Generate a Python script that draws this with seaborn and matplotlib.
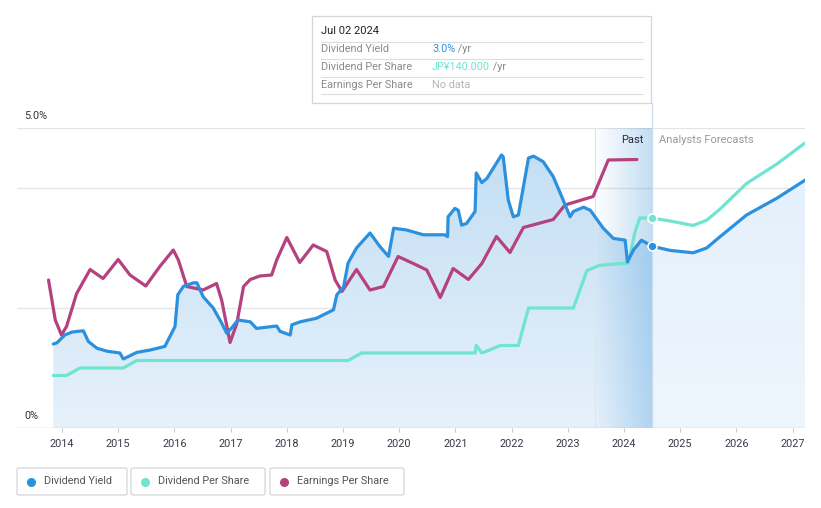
import numpy as np
import pandas as pd
import matplotlib
matplotlib.use("Agg")
import matplotlib.pyplot as plt
import seaborn as sns
from matplotlib.colors import LinearSegmentedColormap, to_rgba
from matplotlib.patches import Rectangle, FancyBboxPatch
from matplotlib.lines import Line2D

# ---------------- data ----------------
# Dividend yield (%), past
dy_years = [2013.845, 2013.91, 2014.05, 2014.18, 2014.38, 2014.47, 2014.62, 2014.80, 2015.03, 2015.09,
            2015.33, 2015.57, 2015.83, 2015.89, 2016.01, 2016.06, 2016.16, 2016.34, 2016.40, 2016.51,
            2016.69, 2016.84, 2016.93, 2017.02, 2017.13, 2017.35, 2017.46, 2017.82, 2017.88, 2018.06,
            2018.09, 2018.24, 2018.53, 2018.83, 2018.89, 2019.01, 2019.09, 2019.24, 2019.48, 2019.66,
            2019.81, 2019.90, 2020.13, 2020.43, 2020.81, 2020.86, 2020.87, 2020.99, 2021.05, 2021.11,
            2021.20, 2021.35, 2021.37, 2021.47, 2021.56, 2021.82, 2021.85, 2021.94, 2022.03, 2022.12,
            2022.30, 2022.39, 2022.56, 2022.74, 2022.89, 2023.04, 2023.10, 2023.28, 2023.40, 2023.63,
            2023.81, 2024.02, 2024.06, 2024.17, 2024.31, 2024.50]
dy_vals = [1.40, 1.42, 1.55, 1.60, 1.62, 1.44, 1.33, 1.28, 1.25, 1.15,
           1.26, 1.30, 1.36, 1.47, 1.69, 2.22, 2.36, 2.42, 2.42, 2.19,
           2.00, 1.75, 1.58, 1.67, 1.80, 1.77, 1.66, 1.70, 1.61, 1.55,
           1.72, 1.77, 1.83, 1.97, 2.22, 2.35, 2.75, 3.00, 3.25, 3.02,
           2.86, 3.33, 3.30, 3.22, 3.22, 3.19, 3.52, 3.66, 3.63, 3.38,
           3.41, 3.61, 4.25, 4.09, 4.16, 4.55, 4.52, 3.80, 3.52, 3.55,
           4.50, 4.53, 4.44, 4.19, 3.86, 3.52, 3.61, 3.68, 3.63, 3.33,
           3.16, 3.13, 2.77, 2.97, 3.13, 3.03]
# Dividend yield (%), analyst forecast
dy_fc_years = [2024.50, 2024.82, 2025.23, 2025.47, 2025.71, 2026.18, 2026.72, 2027.22]
dy_fc_vals = [3.03, 2.96, 2.92, 3.00, 3.19, 3.55, 3.83, 4.13]

# Dividend per share (JPY)
dps_years = [2013.845, 2014.08, 2014.32, 2015.09, 2015.33, 2019.09, 2019.33, 2021.35, 2021.37, 2021.47,
             2021.80, 2022.12, 2022.30, 2023.10, 2023.34, 2023.57, 2024.08, 2024.19, 2024.28, 2024.50]
dps_vals = [35, 35, 40, 40, 45, 45, 50, 50, 55, 50,
            55, 55, 80, 80, 105, 108.5, 110, 130, 140, 140]
dps_fc_years = [2024.50, 2024.82, 2025.23, 2025.47, 2025.71, 2026.18, 2026.72, 2027.22]
dps_fc_vals = [140, 138, 135, 138.5, 146, 163, 176, 190]

# Earnings per share (JPY)
eps_years = [2013.76, 2013.88, 2013.99, 2014.08, 2014.26, 2014.50, 2014.73, 2015.00, 2015.21, 2015.49,
             2015.74, 2015.98, 2016.07, 2016.22, 2016.51, 2016.75, 2016.84, 2016.99, 2017.11, 2017.23,
             2017.35, 2017.52, 2017.73, 2017.82, 2018.00, 2018.23, 2018.47, 2018.71, 2018.86, 2018.98,
             2019.24, 2019.48, 2019.72, 2019.98, 2020.25, 2020.49, 2020.73, 2020.96, 2021.23, 2021.47,
             2021.73, 2021.97, 2022.21, 2022.74, 2022.95, 2023.45, 2023.72, 2024.23]
eps_vals = [296, 216, 186, 203, 269, 317, 299, 337, 306, 284,
            323, 356, 336, 283, 276, 289, 256, 171, 209, 283,
            297, 304, 306, 336, 381, 331, 366, 353, 296, 273,
            317, 276, 283, 343, 329, 316, 261, 319, 297, 329,
            383, 351, 401, 417, 446, 463, 536, 537]

tick_years = list(range(2014, 2028))
legend_labels = ["Dividend Yield", "Dividend Per Share", "Earnings Per Share"]

C_DY = "#2b91de"
C_DPS = "#6fe4d0"
C_EPS = "#b5417f"

# ---------------- figure ----------------
sns.set_theme(style="white")
plt.rcParams['font.family'] = ['Roboto', 'DejaVu Sans']

W, H = 821, 508
fig = plt.figure(figsize=(W / 100, H / 100), dpi=100)
fig.patch.set_facecolor("white")

def fx(x):
    return x / W

def fy(y):
    return 1 - y / H

XMIN, XMAX = 2013.199, 2027.22
ax = fig.add_axes([fx(17), fy(428), 788 / W, 300 / H])
ax.set_facecolor("none")
for s in ax.spines.values():
    s.set_visible(False)
ax.set_yticks([])

# grid lines
for g in [2, 4, 5]:
    ax.axhline(g, color="#e4e4e4", lw=0.9, zorder=0)


def gradient_fill(ax, x, y, top, bottom, z=1):
    poly = ax.fill_between(x, y, 0, facecolor="none", edgecolor="none", zorder=z)
    grad = np.linspace(1, 0, 256).reshape(-1, 1)
    cmap = LinearSegmentedColormap.from_list("g", [bottom, top])
    im = ax.imshow(grad, aspect="auto", cmap=cmap, extent=[min(x), max(x), 0, max(y)],
                   origin="upper", zorder=z, interpolation="bicubic")
    im.set_clip_path(poly.get_paths()[0], transform=ax.transData)
    return im

gradient_fill(ax, dy_years, dy_vals, "#c4dff4", "#e6f1fb", z=1)
gradient_fill(ax, dy_fc_years, dy_fc_vals, "#e4f0fb", "#eef6fd", z=1)

# past highlight band
band = np.zeros((2, 256, 4))
base = np.array(to_rgba("#3f97dc"))
for i, a in enumerate(np.linspace(0.0, 0.32, 256)):
    band[:, i, :3] = base[:3]
    band[:, i, 3] = a
x_band0 = 2014 + (595 - 62) / 56.2
x_band1 = 2014 + (651.5 - 62) / 56.2
ax.imshow(band, aspect="auto", extent=[x_band0, x_band1, 0, 5], zorder=2, interpolation="bilinear")
ax.axvline(x_band0, color="#d6e7f5", lw=0.8, zorder=2)
ax.axvline(x_band1, color="#c9dced", lw=0.9, zorder=2)
ax.axhline(0, color="#c9c9c9", lw=1.0, zorder=6)
ax.set_xlim(XMIN, XMAX)
ax.set_ylim(0, 5)

# x ticks
ax.set_xticks(tick_years)
ax.set_xticklabels([str(t) for t in tick_years], fontsize=7.8, color="#3a3a4a")
ax.tick_params(axis="x", length=3, width=0.8, color="#c9c9c9", pad=5, bottom=True)

# overlay axes: EPS, DPS, yield line
ax3 = ax.twinx()
ax3.set_ylim(0, 600)
ax2 = ax.twinx()
ax2.set_ylim(0, 200)
ax4 = ax.twinx()
ax4.set_ylim(0, 5)
for a in (ax2, ax3, ax4):
    a.set_yticks([])
    a.patch.set_visible(False)
    for s in a.spines.values():
        s.set_visible(False)
    a.set_xlim(XMIN, XMAX)

lw = 2.3
sns.lineplot(x=eps_years, y=eps_vals, ax=ax3, color=C_EPS, lw=lw)
sns.lineplot(x=dps_years, y=dps_vals, ax=ax2, color=C_DPS, lw=lw)
sns.lineplot(x=dps_fc_years, y=dps_fc_vals, ax=ax2, color=C_DPS, lw=lw)
sns.lineplot(x=dy_years, y=dy_vals, ax=ax4, color=C_DY, lw=lw)
sns.lineplot(x=dy_fc_years, y=dy_fc_vals, ax=ax4, color=C_DY, lw=lw)

# markers at the hover date
ax4.scatter([dy_fc_years[0]], [dy_fc_vals[0]], s=42, color=C_DY, edgecolor="white",
            linewidth=1.2, zorder=7, clip_on=False)
ax2.scatter([dps_fc_years[0]], [dps_fc_vals[0]], s=42, color=C_DPS, edgecolor="white",
            linewidth=1.2, zorder=7, clip_on=False)

for a in (ax2, ax3, ax4):
    a.set_ylabel("")
    a.set_xlabel("")
    a.set_xlim(XMIN, XMAX)
    a.tick_params(axis="x", bottom=False, labelbottom=False)
ax.set_xlabel("")
ax.set_ylabel("")

# y labels
fig.text(fx(24), fy(116), "5.0%", fontsize=7.8, color="#333333", va="center", ha="left")
fig.text(fx(24), fy(416), "0%", fontsize=7.8, color="#333333", va="center", ha="left")

# Past / forecast labels
fig.text(fx(643), fy(140), "Past", fontsize=8, color="#2a2a3a", va="center", ha="right")
fig.text(fx(659), fy(140), "Analysts Forecasts", fontsize=8, color="#9a9a9a", va="center", ha="left")

# hover line above the plot area (from tooltip to axes top)
fig.add_artist(Line2D([fx(651.5), fx(651.5)], [fy(103), fy(128)], color="#c9dced", lw=0.9, zorder=-1))

# tooltip
fig.add_artist(Rectangle((fx(312), fy(103)), 339 / W, 87 / H, facecolor="white",
                         edgecolor="#d4d4d4", lw=0.9, zorder=10))
fig.text(fx(321), fy(31), "Jul 02 2024", fontsize=8, color="#222222", va="center", ha="left", zorder=11)
for yy in [42, 59, 77, 94]:
    fig.add_artist(Line2D([fx(321), fx(643)], [fy(yy), fy(yy)], color="#dddddd", lw=0.8, zorder=11))
rows = [("Dividend Yield", "3.0%", C_DY, " /yr", 49),
        ("Dividend Per Share", "JP¥140.000", C_DPS, " /yr", 67),
        ("Earnings Per Share", "No data", "#b5b5b5", "", 85)]
for lab, val, col, suf, yy in rows:
    fig.text(fx(321), fy(yy), lab, fontsize=7.8, color="#8a8a8a", va="center", ha="left", zorder=11)
    t = fig.text(fx(432), fy(yy), val, fontsize=7.8, color=col, va="center", ha="left", zorder=11)
    if suf:
        fig.canvas.draw()
        bb = t.get_window_extent()
        fig.text(bb.x1 / W, fy(yy), suf, fontsize=7.8, color="#8a8a8a", va="center", ha="left", zorder=11)

# legend boxes
boxes = [(17, 127, C_DY), (131, 265, C_DPS), (270, 404, C_EPS)]
for (x0, x1, col), lab in zip(boxes, legend_labels):
    fig.add_artist(FancyBboxPatch((fx(x0), fy(495)), (x1 - x0) / W, 27 / H,
                                  boxstyle="round,pad=0,rounding_size=0.003",
                                  facecolor="white", edgecolor="#d6d6d6", lw=0.9))
    fig.add_artist(Line2D([fx(x0 + 14)], [fy(481.5)], marker="o", markersize=5.5,
                          color=col, markeredgecolor=col))
    fig.text(fx(x0 + 27), fy(481.5), lab, fontsize=7.8, color="#555555", va="center", ha="left")

fig.savefig("out.png", dpi=100, facecolor="white")
